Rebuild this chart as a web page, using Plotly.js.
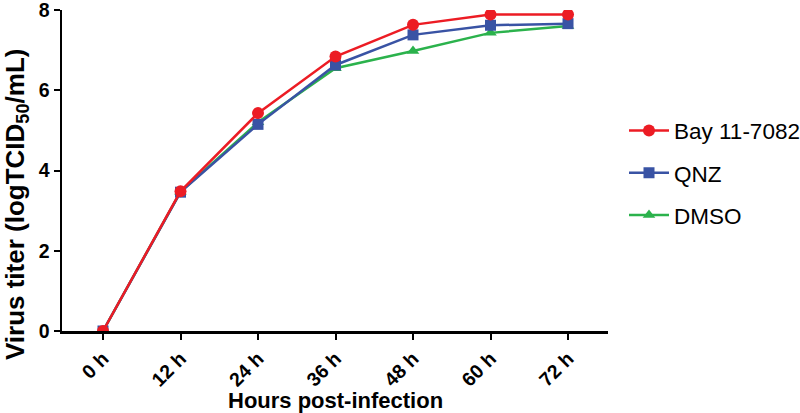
<!DOCTYPE html>
<html>
<head>
<meta charset="utf-8">
<script src="https://cdn.plot.ly/plotly-3.0.1.min.js"></script>
<style>html,body{margin:0;padding:0;background:#fff;}#chart{width:800px;height:413px;}</style>
</head>
<body>
<div id="chart"></div>
<script>
var categories = ['0 h', '12 h', '24 h', '36 h', '48 h', '60 h', '72 h'];
var bayValues = [0, 3.48, 5.43, 6.84, 7.63, 7.89, 7.89];
var qnzValues = [0, 3.46, 5.15, 6.63, 7.38, 7.62, 7.66];
var dmsoValues = [0, 3.47, 5.20, 6.55, 6.98, 7.43, 7.60];
var yTicks = [0, 2, 4, 6, 8];

var FONT = 'Liberation Sans, Arial, Helvetica, sans-serif';

var traces = [
  {x: categories, y: dmsoValues, name: 'DMSO', type: 'scatter', mode: 'lines+markers',
   line: {color: '#2bb24c', width: 2.5}, marker: {symbol: 'triangle-up', size: 11, color: '#2bb24c'},
   legendgroup: 'c', legendrank: 3},
  {x: categories, y: qnzValues, name: 'QNZ', type: 'scatter', mode: 'lines+markers',
   line: {color: '#3953a4', width: 2.5}, marker: {symbol: 'square', size: 11, color: '#3953a4'},
   legendgroup: 'b', legendrank: 2},
  {x: categories, y: bayValues, name: 'Bay 11-7082', type: 'scatter', mode: 'lines+markers',
   line: {color: '#ec1c24', width: 2.5}, marker: {symbol: 'circle', size: 12, color: '#ec1c24'},
   legendgroup: 'a', legendrank: 1}
];

var axisCommon = {
  showline: true, linecolor: '#000', linewidth: 2.5, mirror: false,
  ticks: 'outside', ticklen: 6, tickwidth: 2, tickcolor: '#000',
  showgrid: false, zeroline: false, automargin: false, ticklabeloverflow: 'allow',
  tickfont: {family: FONT, size: 19.5, color: '#000', weight: 'bold'}
};

var layout = {
  width: 800, height: 413,
  margin: {l: 62, r: 192, t: 10, b: 82, autoexpand: false},
  paper_bgcolor: '#fff', plot_bgcolor: '#fff',
  showlegend: true,
  legend: {
    xref: 'container', yref: 'container',
    x: 0.78, xanchor: 'left', y: 0.735, yanchor: 'top',
    font: {family: FONT, size: 22.5, color: '#000'},
    traceorder: 'grouped', tracegroupgap: 10, itemwidth: 40,
    bgcolor: 'rgba(0,0,0,0)'
  },
  xaxis: Object.assign({}, axisCommon, {
    type: 'category', categoryorder: 'array', categoryarray: categories,
    range: [-0.529, 6.516], tickangle: -45
  }),
  yaxis: Object.assign({}, axisCommon, {
    range: [0, 8], tickvals: yTicks, ticktext: yTicks.map(String)
  }),
  annotations: [
    {text: 'Hours post-infection', xref: 'paper', yref: 'paper', x: 0.5, y: -0.215,
     xanchor: 'center', yanchor: 'middle', showarrow: false,
     font: {family: FONT, size: 22, color: '#000', weight: 'bold'}},
    {text: 'Virus titer (logTCID<sub>50</sub>/mL)', xref: 'paper', yref: 'paper',
     x: -0.0845, y: 0.395, xanchor: 'center', yanchor: 'middle', textangle: -90, showarrow: false,
     font: {family: FONT, size: 26, color: '#000', weight: 'bold'}}
  ]
};

Plotly.newPlot('chart', traces, layout, {displayModeBar: false, staticPlot: true});
</script>
</body>
</html>
